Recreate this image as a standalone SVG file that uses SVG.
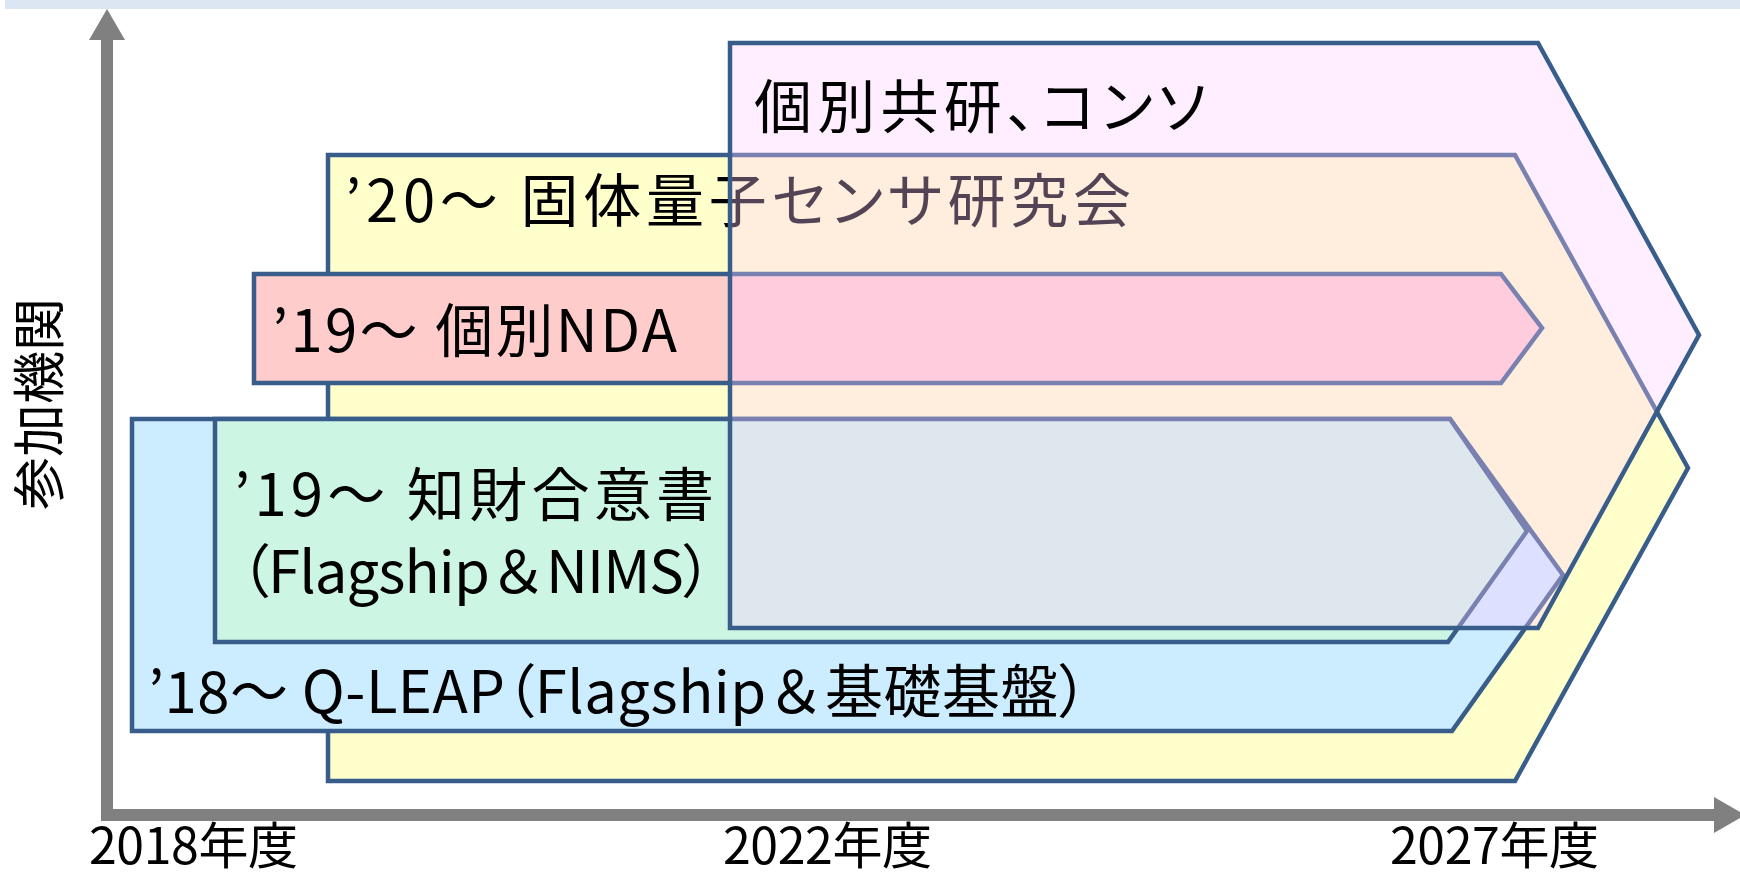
<svg xmlns="http://www.w3.org/2000/svg" width="1740" height="879" viewBox="0 0 1740 879">
<defs>
<style>
.shape{stroke:#385D8A;stroke-width:4.5;stroke-linejoin:miter}
.lbl{font-family:'Noto Sans CJK JP','Noto Sans CJK SC',sans-serif;font-size:58px;fill:#000;font-feature-settings:"palt" 1}
.fw{font-feature-settings:normal}
.ax{font-family:'Noto Sans CJK JP','Noto Sans CJK SC',sans-serif;font-size:50px;fill:#000}
.axis{fill:#808080}
</style>
</defs>
<rect x="5" y="0" width="1735" height="9" fill="#DCE6F2"/>
<g id="axes">
<path d="M107,40 V815 H1714" fill="none" stroke="#808080" stroke-width="12" stroke-linejoin="miter"/>
<polygon class="axis" points="89,40 107,9 125,40"/>
<polygon class="axis" points="1714,797 1745,815 1714,833"/>
</g>
<g id="axis-labels">
<text class="ax" x="89" y="864" textLength="209">2018年度</text>
<text class="ax" x="723" y="864" textLength="209">2022年度</text>
<text class="ax" x="1390" y="864" textLength="209">2027年度</text>
<text class="ax" transform="translate(59,404) rotate(-90)" text-anchor="middle" style="font-size:53px">参加機関</text>
</g>
<g id="node-sensor">
<polygon class="shape" fill="#FFFFCC" points="328,155 1515,155 1688,468 1515,781 328,781"/>
<text class="lbl" x="345" y="222" textLength="786">’20～ 固体量子センサ研究会</text>
</g>
<g id="node-qleap">
<polygon class="shape" fill="#CCECFF" points="132,419 1450,419 1563,575 1452,731 132,731"/>
<text class="lbl" x="148" y="713" textLength="940">’18～ Q-LEAP（Flagship<tspan class="fw">＆</tspan>基礎基盤）</text>
</g>
<g id="node-ip">
<polygon class="shape" fill="#CCF5E4" points="215,419 1450,419 1527,531 1448,642 215,642"/>
<text class="lbl" x="234" y="516" textLength="480">’19～ 知財合意書</text>
<text class="lbl" x="240" y="593" textLength="472">（Flagship<tspan class="fw">＆</tspan>NIMS）</text>
</g>
<g id="node-nda">
<polygon class="shape" fill="#FFCCCC" points="254,274 1501,274 1542,328 1501,383 254,383"/>
<text class="lbl" x="272" y="352" textLength="405">’19～ 個別NDA</text>
</g>
<g id="node-consortium">
<polygon class="shape" fill="#FFCCFF" fill-opacity="0.33" points="730,43 1538,43 1699,335 1538,628 730,628"/>
<text class="lbl" x="754" y="128" textLength="452">個別共研、コンソ</text>
</g>
</svg>
